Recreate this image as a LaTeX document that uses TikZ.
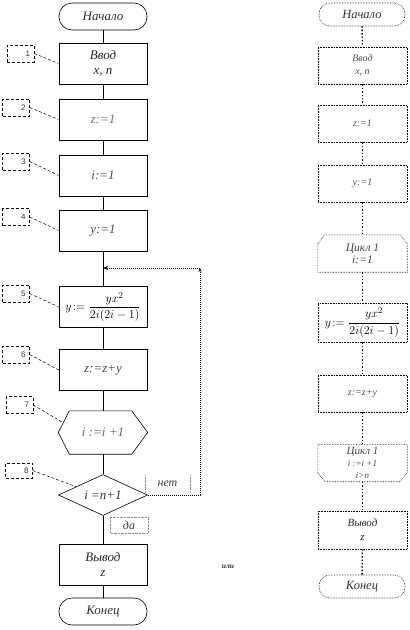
\documentclass[tikz,border=0pt]{standalone}
\usepackage{amsmath}
\usepackage{fontspec}
\setmainfont{Liberation Serif}
\newfontfamily\labelsans{Liberation Sans}
\usetikzlibrary{arrows.meta,shapes.geometric,calc}
\begin{document}
\begin{tikzpicture}[x=1pt,y=-1pt,
  every node/.style={inner sep=1pt},
  term/.style={draw, line width=0.6pt, rounded corners=13pt, minimum width=88pt, minimum height=27pt, font=\fontsize{13}{15}\selectfont\itshape, text=black!80},
  proc/.style={draw, line width=0.6pt, minimum width=88pt, minimum height=41pt, align=center, font=\fontsize{13}{15}\selectfont\itshape, text=black!70},
  hexnode/.style={minimum width=89pt, minimum height=43pt, font=\fontsize{13}{15}\selectfont\itshape, text=black!60},
  dec/.style={draw, line width=0.6pt, diamond, aspect=2.2, minimum width=89pt, minimum height=41pt, inner sep=0pt, font=\fontsize{13}{15}\selectfont\itshape, text=black!80},
  numbox/.style={draw, densely dashed, line width=0.5pt, minimum width=27pt, minimum height=17pt, inner sep=0pt, font=\labelsans\fontsize{8}{9}\selectfont, text=black!80},
  lead/.style={densely dashed, line width=0.5pt},
  flow/.style={line width=0.6pt},
  loopline/.style={densely dotted, line width=1pt},
  tag/.style={minimum height=17pt, font=\fontsize{12}{13}\selectfont\itshape, text=black!75},
  rterm/.style={draw, densely dotted, line width=0.6pt, rounded corners=11pt, minimum width=86pt, minimum height=23pt, font=\fontsize{12.5}{14}\selectfont\itshape, text=black!80},
  rproc/.style={draw, densely dotted, line width=0.6pt, minimum width=89pt, minimum height=37pt, align=center, font=\fontsize{10}{13}\selectfont\itshape, text=black!70},
  rloop/.style={minimum width=89pt, minimum height=37pt, align=center, font=\fontsize{11.5}{12}\selectfont\itshape, text=black!75},
  rflow/.style={dotted, line width=1.4pt},
  formula/.style={font=\fontsize{12.5}{14}\selectfont, text=black},
]
\useasboundingbox (0,0) rectangle (410,630);

% ---------- left column ----------
\node[term] (start) at (103,16.5) {Начало};
\node[proc, text=black!85] (in) at (103,63.5) {Ввод\\x, n};
\node[proc, text=black!55] (z1) at (103,119.5) {z:=1};
\node[proc] (i1) at (103,175.5) {i:=1};
\node[proc] (y1) at (103,230.5) {y:=1};
\coordinate (join) at (103,268);
\node[proc, formula] (f) at (103,307) {$y\!:=\dfrac{yx^2}{2i(2i-1)}$};
\node[proc] (zz) at (103,370) {z:=z+y};
\node[hexnode] (h) at (103,432.5) {i :=i +1};
\draw[flow] (h.west) -- ($(h.north west)+(11,0)$) -- ($(h.north east)+(-16,0)$) -- (h.east)
  -- ($(h.south east)+(-16,0)$) -- ($(h.south west)+(11,0)$) -- cycle;
\node[dec] (d) at (103,495) {i =n+1};
\node[proc, text=black!85] (out) at (103,564.5) {Вывод\\z};
\node[term] (end) at (103,611.5) {Конец};

% number labels
\node[numbox] (l1) at (20.5,53.5) {\makebox[19pt][r]{1}};
\node[numbox] (l2) at (16,107.5) {\makebox[19pt][r]{2}};
\node[numbox] (l3) at (16,161.5) {\makebox[19pt][r]{3}};
\node[numbox] (l4) at (16,217) {\makebox[19pt][r]{4}};
\node[numbox] (l5) at (16,293.5) {\makebox[19pt][r]{5}};
\node[numbox] (l6) at (16,354.5) {\makebox[19pt][r]{6}};
\node[numbox] (l7) at (19.5,405) {\makebox[19pt][r]{7}};
\node[numbox, minimum height=15pt] (l8) at (19,470.5) {\makebox[19pt][r]{8}};

\coordinate (h7) at ($(h.west)!0.45!($(h.north west)+(11,0)$)$);
\coordinate (d8) at ($(d.west)!0.4!(d.north)$);
\draw[lead] (l1.east) -- (in.west);
\draw[lead] (l2.east) -- (z1.west);
\draw[lead] (l3.east) -- (i1.west);
\draw[lead] (l4.east) -- (y1.west);
\draw[lead] (l5.east) -- (f.west);
\draw[lead] (l6.east) -- (zz.west);
\draw[lead] (l7.east) -- (h7);
\draw[lead] (l8.east) -- (d8);

% flow lines
\draw[flow] (start) -- (in);
\draw[flow] (in) -- (z1);
\draw[flow] (z1) -- (i1);
\draw[flow] (i1) -- (y1);
\draw[flow] (y1) -- (f);
\draw[flow] (f) -- (zz);
\draw[flow] (zz) -- (h);
\draw[flow] (h) -- (d);
\draw[flow] (d) -- (out);
\draw[flow] (out) -- (end);

% loop back
\coordinate (cr1) at (200,495);
\coordinate (cr2) at (200,268);
\draw[loopline, -{Stealth[length=4pt,width=3pt]}] (d.east) -- (cr1) -- (cr2);
\draw[loopline, -{Stealth[length=5pt,width=4pt]}] (cr2) -- (join);

% branch tags
\node[tag, minimum width=45pt] (no) at (167.5,484) {нет};
\draw[black!45, densely dotted] (no.north west) -- (no.south west) (no.north east) -- (no.south east);
\node[tag, minimum width=37pt, minimum height=16pt] (yes) at (129,525) {да};
\draw[black!45, densely dotted] (yes.north west) rectangle (yes.south east);

\node[font=\fontsize{7.5}{8}\selectfont\itshape\bfseries, text=black!80] (or) at (228,567) {или};

% ---------- right column ----------
\node[rterm] (rs) at (362,14.5) {Начало};
\node[rproc] (rin) at (362.5,65.5) {Ввод\\x, n};
\node[rproc] (rz) at (362.5,123.5) {z:=1};
\node[rproc] (ry) at (362.5,183.5) {y:=1};
\node[rloop] (rlb) at (362.5,253.5) {Цикл 1\\i:=1};
\draw[densely dotted, line width=0.6pt] ($(rlb.north west)+(0,9)$) -- ($(rlb.north west)+(7,0)$)
  -- ($(rlb.north east)+(-7,0)$) -- ($(rlb.north east)+(0,9)$) -- (rlb.south east) -- (rlb.south west) -- cycle;
\node[rproc, formula, minimum height=39pt] (rf) at (362.5,322.5) {$y\!:=\dfrac{yx^2}{2i(2i-1)}$};
\node[rproc] (rzz) at (362.5,393.5) {z:=z+y};
\node[rloop, font=\fontsize{11}{13}\selectfont\itshape] (rle) at (362.5,463) {Цикл 1\\[-1pt]{\small i :=i +1}\\[-1pt]{\small i>n}};
\draw[densely dotted, line width=0.6pt] (rle.north west) -- (rle.north east) -- ($(rle.south east)+(0,-9)$)
  -- ($(rle.south east)+(-7,0)$) -- ($(rle.south west)+(7,0)$) -- ($(rle.south west)+(0,-9)$) -- cycle;
\node[rproc, minimum height=38pt, font=\fontsize{11}{14}\selectfont\itshape, text=black!85] (rout) at (362.5,530) {Вывод\\z};
\node[rterm] (rend) at (362,586.5) {Конец};

\draw[rflow] (rs) -- (rin);
\draw[rflow] (rin) -- (rz);
\draw[rflow] (rz) -- (ry);
\draw[rflow] (ry) -- (rlb);
\draw[rflow] (rlb) -- (rf);
\draw[rflow] (rf) -- (rzz);
\draw[rflow] (rzz) -- (rle);
\draw[rflow] (rle) -- (rout);
\draw[rflow] (rout) -- (rend);
\end{tikzpicture}
\end{document}
